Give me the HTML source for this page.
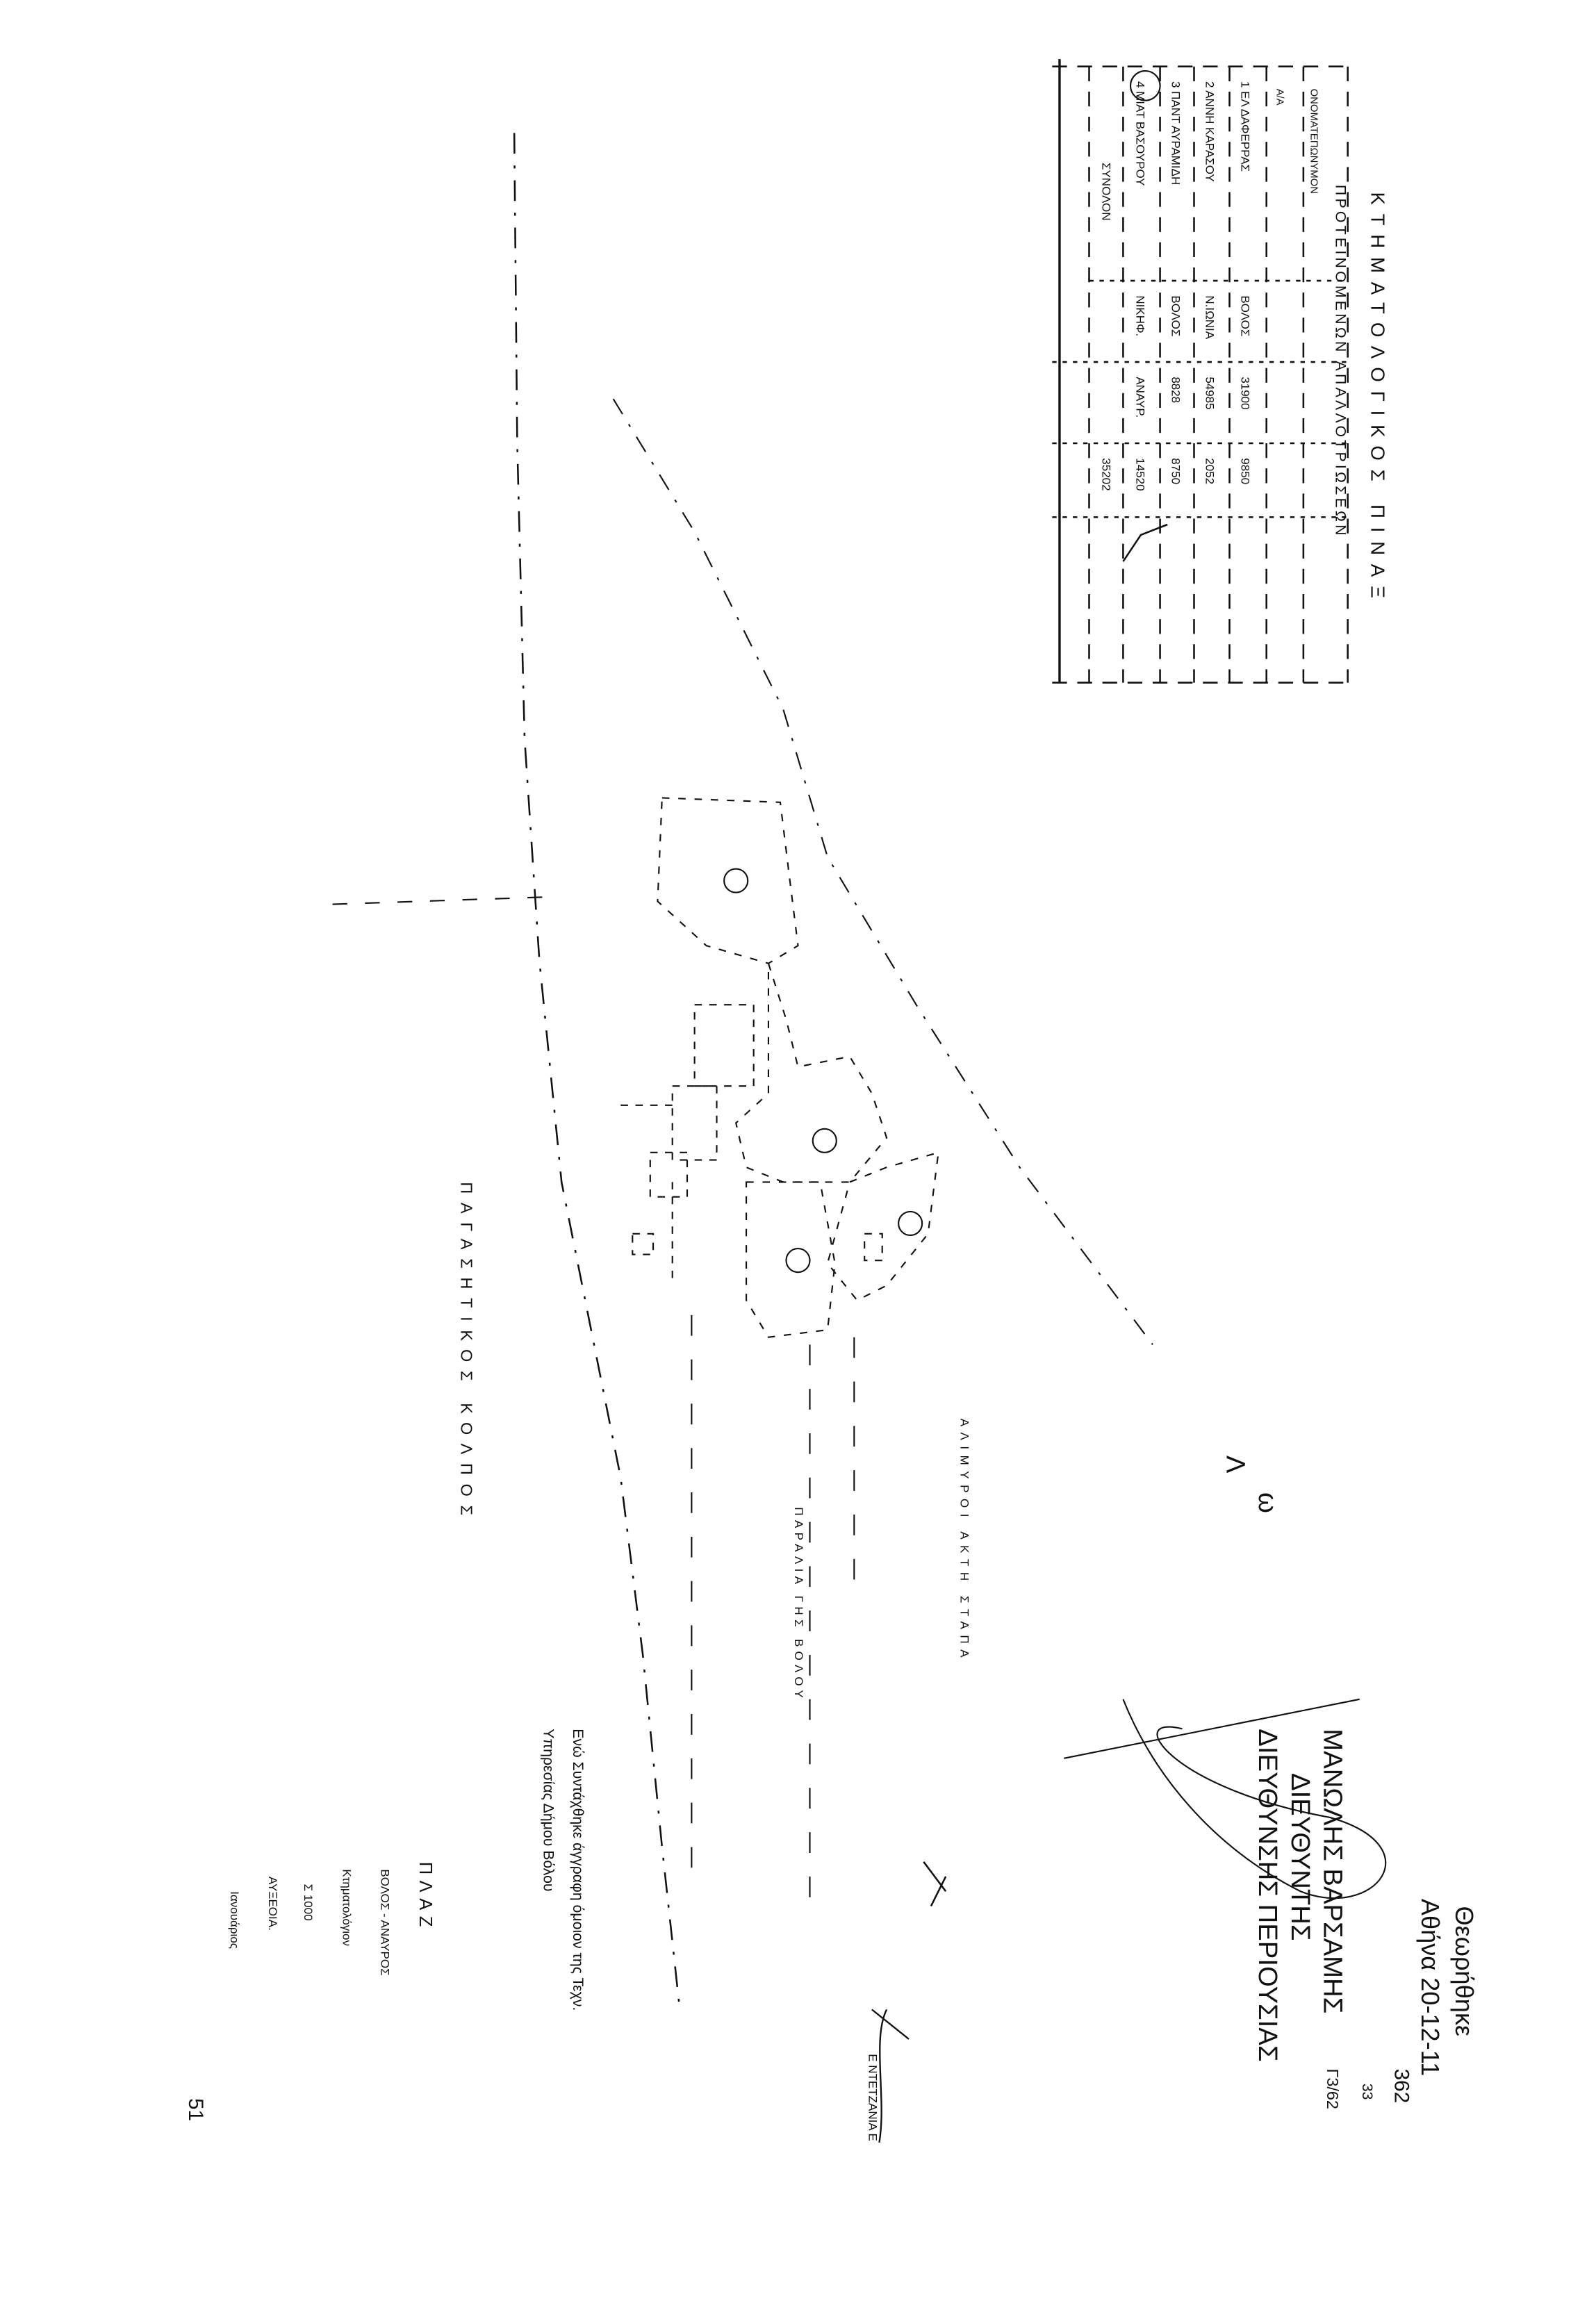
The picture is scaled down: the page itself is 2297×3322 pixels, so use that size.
<!DOCTYPE html>
<html><head><meta charset="utf-8">
<style>
html,body{margin:0;padding:0;background:#fff;}
svg{display:block;}
text{font-family:"Liberation Sans","DejaVu Sans",sans-serif;fill:#111;}
</style></head>
<body>
<svg width="2297" height="3322" viewBox="0 0 1080 1562" preserveAspectRatio="none" xmlns="http://www.w3.org/2000/svg">
<rect width="1080" height="1562" fill="#fff"/>
<g stroke="#111" fill="none">
<g stroke-width="1.2" stroke-dasharray="10 7">
<line x1="712" y1="45" x2="915" y2="45"/>
<line x1="712" y1="462" x2="915" y2="462"/>
<line x1="737" y1="45" x2="737" y2="462"/>
<line x1="760" y1="45" x2="760" y2="462"/>
<line x1="785" y1="45" x2="785" y2="462"/>
<line x1="808" y1="45" x2="808" y2="462"/>
<line x1="832" y1="45" x2="832" y2="462"/>
<line x1="857" y1="45" x2="857" y2="462"/>
<line x1="882" y1="45" x2="882" y2="462"/>
<line x1="912" y1="45" x2="912" y2="462"/>
<line x1="737" y1="190" x2="912" y2="190" stroke-dasharray="3 4"/>
<line x1="712" y1="245" x2="912" y2="245" stroke-dasharray="3 4"/>
<line x1="712" y1="300" x2="912" y2="300" stroke-dasharray="3 4"/>
<line x1="712" y1="350" x2="912" y2="350" stroke-dasharray="3 4"/>
</g>
<line x1="717" y1="40" x2="717" y2="462" stroke-width="1.6"/>
<circle cx="775" cy="58" r="10" stroke-width="1"/>
<polyline points="760,380 772,362 790,355" stroke-width="1.2"/>
<path d="M348,90 L350,300 L355,500 L365,650 L372,720 L380,800 L400,900 L420,1000 L435,1120 L448,1250 L460,1360" stroke-width="1.2" stroke-dasharray="14 8 2 8"/>
<line x1="225" y1="612" x2="372" y2="607" stroke-width="1" stroke-dasharray="10 12"/>
<path d="M415,270 L470,360 L530,480 L560,580 L620,680 L690,790 L780,910" stroke-width="1" stroke-dasharray="12 8 2 8"/>
<path d="M448,540 L528,543 L535,600 L540,640 L520,652 L478,640 L445,610 Z" stroke-width="1" stroke-dasharray="5 6"/>
<path d="M520,652 L532,690 L540,722 L575,715 L590,740 L600,770 L575,800 L530,800 L505,790 L498,760 L520,740 Z" stroke-width="1" stroke-dasharray="5 6"/>
<path d="M575,800 L600,790 L635,780 L628,835 L600,870 L580,880 L560,855 Z" stroke-width="1" stroke-dasharray="5 6"/>
<path d="M505,800 L555,800 L565,855 L560,900 L520,905 L505,880 Z" stroke-width="1" stroke-dasharray="5 6"/>
<circle cx="498" cy="596" r="8" stroke-width="1"/>
<circle cx="558" cy="772" r="8" stroke-width="1"/>
<circle cx="616" cy="828" r="8" stroke-width="1"/>
<circle cx="540" cy="853" r="8" stroke-width="1"/>
<g stroke-width="1" stroke-dasharray="5 5">
<rect x="470" y="680" width="40" height="55"/>
<rect x="455" y="735" width="30" height="50"/>
<rect x="440" y="780" width="25" height="30"/>
<rect x="428" y="835" width="14" height="14"/>
<rect x="585" y="835" width="12" height="18"/>
<line x1="420" y1="748" x2="455" y2="748"/>
<line x1="455" y1="800" x2="455" y2="870"/>
</g>
<g stroke-width="1" stroke-dasharray="14 16">
<line x1="468" y1="890" x2="468" y2="1270"/>
<line x1="548" y1="910" x2="548" y2="1290"/>
<line x1="578" y1="905" x2="578" y2="1080"/>
</g>
<path d="M800,1170 C760,1160 790,1210 900,1230 C970,1250 930,1300 880,1280 C820,1250 780,1200 760,1150 M720,1190 L920,1150" stroke-width="1"/>
<path d="M600,1360 C590,1380 600,1420 595,1450 M590,1360 L615,1380" stroke-width="1.1"/>
<path d="M625,1260 L640,1280 M630,1290 L640,1270" stroke-width="1.2"/>
</g>
<g font-size="9">
<text transform="translate(928,130) rotate(90)" font-size="13" letter-spacing="6">ΚΤΗΜΑΤΟΛΟΓΙΚΟΣ ΠΙΝΑΞ</text>
<text transform="translate(904,125) rotate(90)" font-size="10" letter-spacing="2">ΠΡΟΤΕΙΝΟΜΕΝΩΝ ΑΠΑΛΛΟΤΡΙΩΣΕΩΝ</text>
<text transform="translate(887,60) rotate(90)" font-size="7">ΟΝΟΜΑΤΕΠΩΝΥΜΟΝ</text>
<text transform="translate(864,60) rotate(90)" font-size="7">Α/Α</text>
<text transform="translate(840,55) rotate(90)" font-size="8">1  ΕΛ ΔΑΦΕΡΡΑΣ</text>
<text transform="translate(840,200) rotate(90)" font-size="8">ΒΟΛΟΣ</text>
<text transform="translate(840,255) rotate(90)" font-size="8">31900</text>
<text transform="translate(840,310) rotate(90)" font-size="8">9850</text>
<text transform="translate(816,55) rotate(90)" font-size="8">2  ΑΝΝΗ ΚΑΡΑΣΟΥ</text>
<text transform="translate(816,200) rotate(90)" font-size="8">Ν.ΙΩΝΙΑ</text>
<text transform="translate(816,255) rotate(90)" font-size="8">54985</text>
<text transform="translate(816,310) rotate(90)" font-size="8">2052</text>
<text transform="translate(793,55) rotate(90)" font-size="8">3  ΠΑΝΤ ΑΥΡΑΜΙΔΗ</text>
<text transform="translate(793,200) rotate(90)" font-size="8">ΒΟΛΟΣ</text>
<text transform="translate(793,255) rotate(90)" font-size="8">8828</text>
<text transform="translate(793,310) rotate(90)" font-size="8">8750</text>
<text transform="translate(769,55) rotate(90)" font-size="8">4  ΜΙΑΤ ΒΑΣΟΥΡΟΥ</text>
<text transform="translate(769,200) rotate(90)" font-size="8">ΝΙΚΗΦ.</text>
<text transform="translate(769,255) rotate(90)" font-size="8">ΑΝΑΥΡ.</text>
<text transform="translate(769,310) rotate(90)" font-size="8">14520</text>
<text transform="translate(746,110) rotate(90)" font-size="8">ΣΥΝΟΛΟΝ</text>
<text transform="translate(746,310) rotate(90)" font-size="8">35202</text>
<text transform="translate(312,800) rotate(90)" font-size="11" letter-spacing="6">ΠΑΓΑΣΗΤΙΚΟΣ    ΚΟΛΠΟΣ</text>
<text transform="translate(650,960) rotate(90)" font-size="8" letter-spacing="4">ΑΛΙΜΥΡΟΙ   ΑΚΤΗ ΣΤΑΠΑ</text>
<text transform="translate(538,1020) rotate(90)" font-size="8" letter-spacing="3">ΠΑΡΑΛΙΑ  ΓΗΣ  ΒΟΛΟΥ</text>
<text transform="translate(830,985) rotate(90)" font-size="18">Λ</text>
<text transform="translate(852,1010) rotate(90)" font-size="18">ω</text>
<text transform="translate(985,1290) rotate(90)" font-size="17">Θεωρήθηκε</text>
<text transform="translate(962,1285) rotate(90)" font-size="17">Αθήνα 20-12-11</text>
<text transform="translate(896,1170) rotate(90)" font-size="18">ΜΑΝΩΛΗΣ ΒΑΡΣΑΜΗΣ</text>
<text transform="translate(874,1200) rotate(90)" font-size="18">ΔΙΕΥΘΥΝΤΗΣ</text>
<text transform="translate(852,1170) rotate(90)" font-size="18">ΔΙΕΥΘΥΝΣΗΣ ΠΕΡΙΟΥΣΙΑΣ</text>
<text transform="translate(388,1170) rotate(90)" font-size="10">Ενώ Συντάχθηκε άγγραφη όμοιον της Τεχν.</text>
<text transform="translate(368,1170) rotate(90)" font-size="10">Υπηρεσίας Δήμου Βόλου</text>
<text transform="translate(284,1260) rotate(90)" font-size="12" letter-spacing="4">ΠΛΑΖ</text>
<text transform="translate(258,1265) rotate(90)" font-size="8">ΒΟΛΟΣ - ΑΝΑΥΡΟΣ</text>
<text transform="translate(232,1265) rotate(90)" font-size="8">Κτηματολόγιον</text>
<text transform="translate(206,1275) rotate(90)" font-size="8">Σ 1000</text>
<text transform="translate(182,1270) rotate(90)" font-size="8">ΑΥΞΕΟΙΑ.</text>
<text transform="translate(156,1280) rotate(90)" font-size="8">Ιανουάριος</text>
<text transform="translate(128,1420) rotate(90)" font-size="14">51</text>
<text transform="translate(944,1400) rotate(90)" font-size="14">362</text>
<text transform="translate(922,1410) rotate(90)" font-size="10">33</text>
<text transform="translate(898,1400) rotate(90)" font-size="11">Γ3/62</text>
<text transform="translate(588,1390) rotate(90)" font-size="8">Ε ΝΤΕΤΖΑΝΙΑ Ε</text>
</g>
</svg>
</body></html>
